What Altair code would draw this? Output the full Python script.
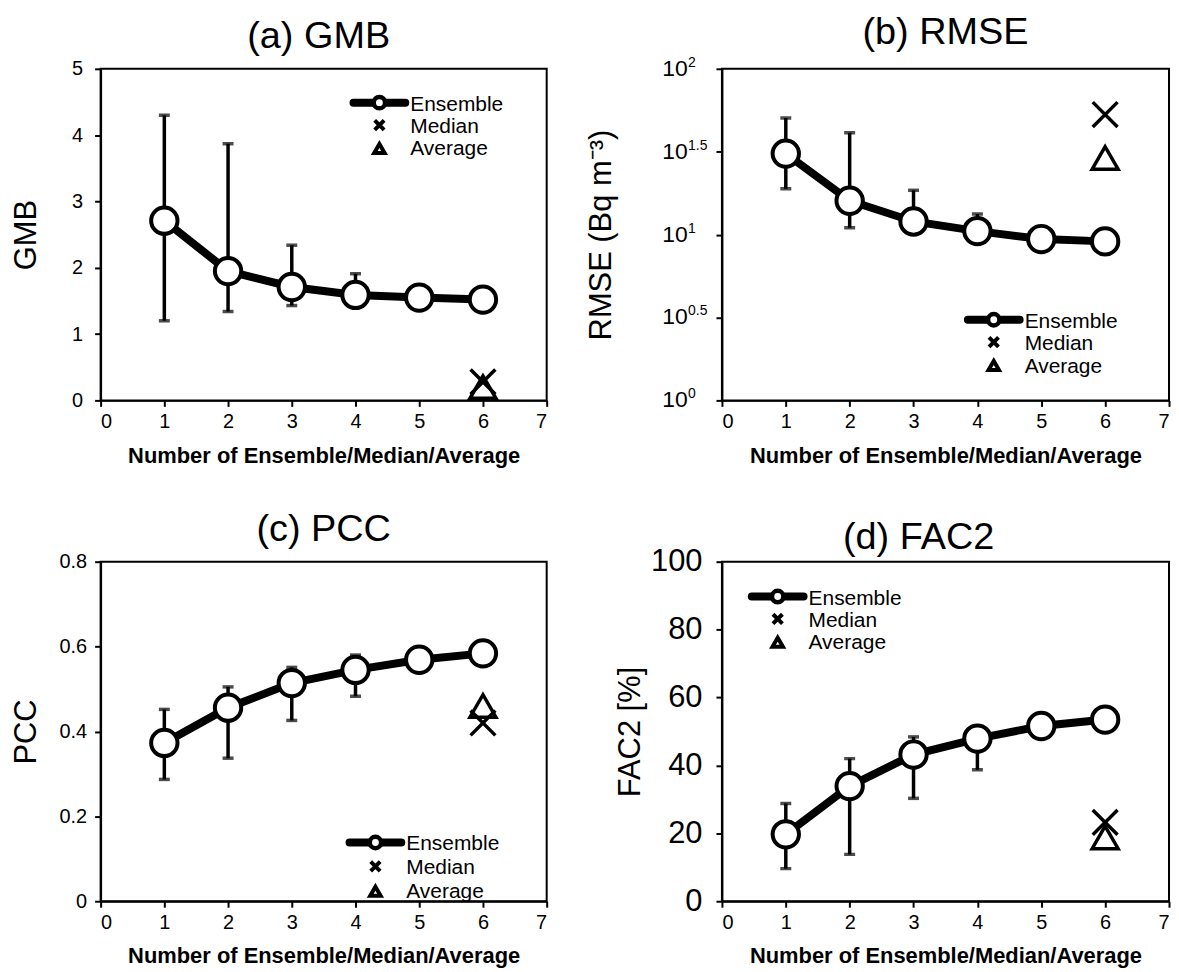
import altair as alt
import pandas as pd

# ---------------- data ----------------
n_members = [1, 2, 3, 4, 5, 6]
err_members = [1, 2, 3, 4]
stat_member = [6]

gmb_ens = [2.71, 1.95, 1.71, 1.59, 1.55, 1.52]
gmb_lo = [1.20, 1.34, 1.43, 1.50]
gmb_hi = [4.30, 3.87, 2.34, 1.91]
gmb_median = [0.28]
gmb_average = [0.20]

rmse_ens = [30.8, 16.0, 12.0, 10.5, 9.4, 9.1]
rmse_lo = [18.9, 11.0, 11.0, 9.8]
rmse_hi = [50.5, 41.1, 18.5, 13.3]
rmse_median = [53.0]
rmse_average = [29.0]
rmse_tick_vals = [1, 3.1623, 10, 31.623, 100]
rmse_tick_exp = ["0", "0.5", "1", "1.5", "2"]

pcc_ens = [0.373, 0.456, 0.514, 0.545, 0.569, 0.584]
pcc_lo = [0.287, 0.337, 0.426, 0.483]
pcc_hi = [0.452, 0.505, 0.551, 0.580]
pcc_median = [0.42]
pcc_average = [0.46]

fac2_ens = [19.7, 33.9, 43.2, 47.9, 51.6, 53.5]
fac2_lo = [9.6, 13.8, 30.3, 38.7]
fac2_hi = [28.8, 42.0, 48.4, 50.0]
fac2_median = [23.2]
fac2_average = [18.8]

x_ticks = [0, 1, 2, 3, 4, 5, 6, 7]
legend_labels = ["Ensemble", "Median", "Average"]

FONT = "Liberation Sans"
XPATH = "M-1,-1L1,1M-1,1L1,-1"
one = pd.DataFrame({"k": [0]})


def legend_layers(x0, y0, dy):
    lay = []
    lay.append(alt.Chart(one).mark_rule(color="black", strokeWidth=8, strokeCap="round").encode(
        x=alt.value(x0), x2=alt.value(x0 + 52), y=alt.value(y0)))
    lay.append(alt.Chart(one).mark_point(shape="circle", filled=True, fill="white", stroke="black",
                                         strokeWidth=4.5, size=130, opacity=1).encode(
        x=alt.value(x0 + 26), y=alt.value(y0)))
    lay.append(alt.Chart(one).mark_point(shape=XPATH, filled=False, stroke="black",
                                         strokeWidth=4, size=90, opacity=1).encode(
        x=alt.value(x0 + 26), y=alt.value(y0 + dy)))
    lay.append(alt.Chart(one).mark_point(shape="triangle-up", filled=False, stroke="black",
                                         strokeWidth=4, size=110, opacity=1).encode(
        x=alt.value(x0 + 26), y=alt.value(y0 + 2 * dy + 1)))
    for i, lab in enumerate(legend_labels):
        lay.append(alt.Chart(one).mark_text(align="left", baseline="alphabetic", fontSize=21,
                                            font=FONT, color="black").encode(
            x=alt.value(x0 + 57), y=alt.value(y0 + i * dy + 8), text=alt.value(lab)))
    return lay


def panel(title, tdx, toff, ens, lo, hi, med, avg, yscale, yaxis, width, height, leg, extra=None):
    df = pd.DataFrame({"n": n_members, "val": ens})
    de = pd.DataFrame({"n": err_members, "lo": lo, "hi": hi})
    ds = pd.DataFrame({"n": stat_member, "med": med, "avg": avg})

    xaxis = alt.Axis(values=x_ticks, format="d", title="Number of Ensemble/Median/Average",
                     titleFontWeight="bold", titleFontSize=22, titleX=width / 2, titleY=62,
                     titleAlign="center", titleBaseline="alphabetic", labelFontSize=20,
                     labelPadding=5, tickSize=6, grid=False)
    xs = alt.Scale(domain=[0, 7], nice=False, zero=False)

    def X(ax=None):
        if ax is None:
            return alt.X("n:Q", scale=xs)
        return alt.X("n:Q", scale=xs, axis=ax)

    layers = [
        alt.Chart(de).mark_rule(color="black", strokeWidth=3.5).encode(
            x=X(xaxis), y=alt.Y("lo:Q", scale=yscale, axis=yaxis), y2="hi:Q"),
        alt.Chart(de).mark_tick(color="black", orient="horizontal", size=11, thickness=3.5).encode(
            x=X(), y=alt.Y("lo:Q")),
        alt.Chart(de).mark_tick(color="black", orient="horizontal", size=11, thickness=3.5).encode(
            x=X(), y=alt.Y("hi:Q")),
        alt.Chart(df).mark_line(color="black", strokeWidth=8).encode(
            x=X(), y=alt.Y("val:Q")),
        alt.Chart(df).mark_point(shape="circle", filled=True, fill="white", stroke="black",
                                 strokeWidth=4, size=700, opacity=1).encode(
            x=X(), y=alt.Y("val:Q")),
        alt.Chart(ds).mark_point(shape=XPATH, filled=False, stroke="black", strokeWidth=3.5,
                                 size=620, opacity=1).encode(
            x=X(), y=alt.Y("med:Q")),
        alt.Chart(ds).mark_point(shape="triangle-up", filled=False, stroke="black", strokeWidth=3.5,
                                 size=680, opacity=1).encode(
            x=X(), y=alt.Y("avg:Q")),
        alt.Chart(one).mark_text(align="center", baseline="alphabetic", fontSize=38, font=FONT,
                                 color="black").encode(
            x=alt.value(width / 2 + tdx), y=alt.value(-toff), text=alt.value(title)),
    ]
    if extra:
        layers += extra
    layers += legend_layers(*leg)
    return alt.layer(*layers).properties(width=width, height=height)


def yax(values, title, tx, height, lsize, lpad, **kw):
    return alt.Axis(values=values, title=title, titleFontSize=31, titleFontWeight="normal",
                    titleAngle=-90, titleX=tx, titleY=height / 2, titleAlign="center",
                    titleBaseline="middle", labelFontSize=lsize, labelPadding=lpad,
                    tickSize=6, grid=False, **kw)


W1, W2, H1, H2 = 448, 449, 333, 341

pa = panel("(a) GMB", -5, 21, gmb_ens, gmb_lo, gmb_hi, gmb_median, gmb_average,
           alt.Scale(domain=[0, 5], nice=False),
           yax([0, 1, 2, 3, 4, 5], "GMB", -74, H1, 20, 12, format="d"),
           W1, H1, (254, 34, 22.5))

dlab = pd.DataFrame({"v": rmse_tick_vals, "e": rmse_tick_exp})
rmse_labels = [
    alt.Chart(dlab).mark_text(align="left", baseline="middle", fontSize=23, font=FONT,
                              color="black").encode(
        x=alt.value(-60), y=alt.Y("v:Q"), text=alt.value("10")),
    alt.Chart(dlab).mark_text(align="left", baseline="middle", fontSize=14, font=FONT,
                              color="black", dy=-6).encode(
        x=alt.value(-34), y=alt.Y("v:Q"), text="e:N"),
]
pb = panel("(b) RMSE", 0, 25, rmse_ens, rmse_lo, rmse_hi, rmse_median, rmse_average,
           alt.Scale(type="log", domain=[1, 100], nice=False),
           yax(rmse_tick_vals, "RMSE (Bq m\u207b\u00b3)", -121, H1, 18, 12, labels=False),
           W2, H1, (247, 252, 22.5), extra=rmse_labels)

pc = panel("(c) PCC", 0, 21, pcc_ens, pcc_lo, pcc_hi, pcc_median, pcc_average,
           alt.Scale(domain=[0, 0.8], nice=False),
           yax([0, 0.2, 0.4, 0.6, 0.8], "PCC", -74, H2, 20, 8, format="~g"),
           W1, H2, (250, 282, 24))

pd_ = panel("(d) FAC2", -27, 13, fac2_ens, fac2_lo, fac2_hi, fac2_median, fac2_average,
            alt.Scale(domain=[0, 100], nice=False),
            yax([0, 20, 40, 60, 80, 100], "FAC2 [%]", -92, H2, 31, 14, format="d"),
            W2, H2, (30, 35, 22.5))

chart = alt.concat(pa, pb, pc, pd_, columns=2, spacing={"row": 162, "column": 176},
                   bounds="flush").properties(
    padding={"left": 2, "top": 3, "right": 0, "bottom": 0}
).configure(font=FONT).configure_view(
    stroke="black", strokeWidth=2
).configure_axis(
    domainColor="black", domainWidth=2, tickColor="black", tickWidth=2,
    labelColor="black", titleColor="black", labelFont=FONT, titleFont=FONT
)

chart.save("out.html", embed_options={"renderer": "svg", "actions": False})
